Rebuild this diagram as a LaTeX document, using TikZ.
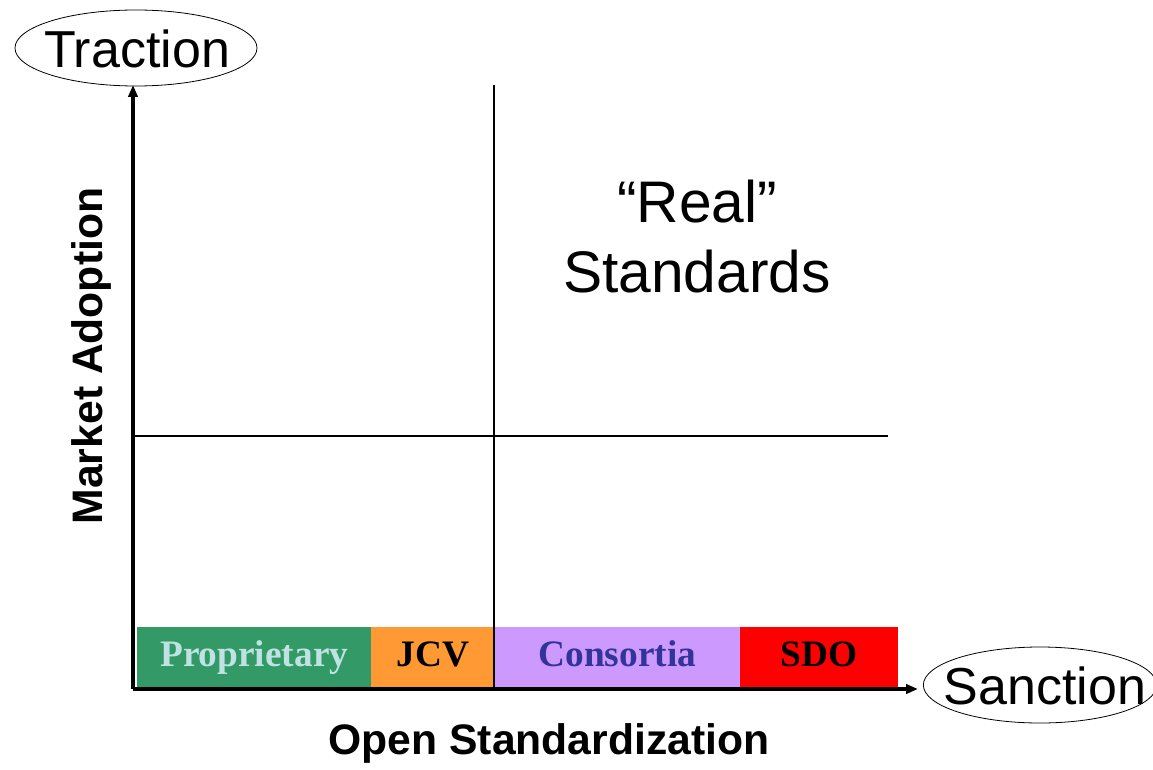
\documentclass[tikz,border=0pt]{standalone}
\usepackage{fontspec}
\setmainfont{Liberation Serif}
\setsansfont{Liberation Sans}
\usetikzlibrary{arrows.meta,shapes.geometric}
\definecolor{propgreen}{HTML}{339966}
\definecolor{proptext}{HTML}{BFE3E3}
\definecolor{jcvorange}{HTML}{FF9933}
\definecolor{conslav}{HTML}{CC99FF}
\definecolor{constext}{HTML}{333399}
\definecolor{sdored}{HTML}{FF0000}
\begin{document}
\begin{tikzpicture}[x=0.75pt,y=-0.75pt,
  axis/.style={line width=3pt,-{Triangle[length=9pt,width=7pt]}},
  divider/.style={line width=0.8pt},
  ovaltext/.style={inner sep=0pt,font=\sffamily\fontsize{39}{39}\selectfont},
  ovalline/.style={line width=0.6pt},
  seg/.style={draw=none,minimum height=45pt,inner sep=0pt,text height=20pt,text depth=6pt,anchor=north west,font=\rmfamily\bfseries\fontsize{28}{28}\selectfont},
  bigtext/.style={font=\sffamily\fontsize{44}{52.5}\selectfont,align=center},
  axislabel/.style={font=\sffamily\bfseries\fontsize{32}{32}\selectfont}]
\useasboundingbox (0,0) rectangle (1153,770);
% origin and helper coordinates
\coordinate (O) at (133,689);
\coordinate (ytop) at (133,85);
\coordinate (xend) at (918,689);
\coordinate (vtop) at (494,85);
\coordinate (vbot) at (494,689);
\coordinate (hl) at (133,436);
\coordinate (hr) at (888,436);
% bar segments
\node[seg,fill=propgreen,minimum width=175.5pt,text=proptext] (prop) at (137,627) {Proprietary};
\node[seg,fill=jcvorange,minimum width=92.25pt] (jcv) at (371,627) {JCV};
\node[seg,fill=conslav,minimum width=184.5pt,text=constext] (cons) at (494,627) {Consortia};
\node[seg,fill=sdored,minimum width=118.5pt] (sdo) at (740,627) {SDO};
% dividers
\draw[divider] (vtop) -- (vbot);
\draw[divider] (hl) -- (hr);
% axes
\draw[axis] (O) -- (ytop);
\draw[axis] (O) -- (xend);
% ovals
\coordinate (tractionc) at (136,48);
\coordinate (sanctionc) at (1040,685);
\draw[ovalline] (tractionc) ellipse [x radius=90.75pt, y radius=28.5pt];
\draw[ovalline] (sanctionc) ellipse [x radius=87.5pt, y radius=28.5pt];
\node[ovaltext] (traction) at (137,49) {Traction};
\node[ovaltext] (sanction) at (1045,686) {Sanction};
% texts
\node[bigtext] (real) at (697,237) {\textquotedblleft Real\textquotedblright\\Standards};
\node[axislabel,rotate=90] (ma) at (91,356) {Market Adoption};
\node[axislabel] (os) at (549,743) {Open Standardization};
\end{tikzpicture}
\end{document}
